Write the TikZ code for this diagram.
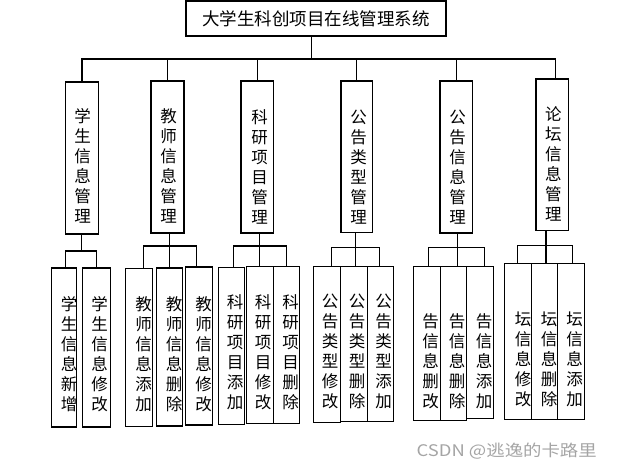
\documentclass[tikz,border=0pt]{standalone}
\usepackage{fontspec}
\usepackage{graphicx}
\setmainfont{Noto Sans CJK SC}
\definecolor{wmgray}{RGB}{165,165,165}
\begin{document}
\begin{tikzpicture}[x=1pt,y=-1pt,line width=1.1pt,
  boxst/.style={draw,inner sep=0pt},
  vlab/.style={inner sep=0pt,align=center,font=\fontsize{16.5}{20}\selectfont},
  ttlfont/.style={font=\fontsize{17.5}{20}\selectfont}]
\fill[white] (0,0) rectangle (618,471);
\useasboundingbox (0,0) rectangle (618,471);

% top
\node[boxst,ttlfont,minimum width=260,minimum height=35] (top) at (316,18.5) {大学生科创项目在线管理系统};
\coordinate (bus) at (311.7,59);

% level 2 boxes
\node[boxst,minimum width=33.4,minimum height=152] (b1) at (82,158) {};
\node[boxst,minimum width=33,minimum height=152] (b2) at (167.5,157) {};
\node[boxst,minimum width=32.7,minimum height=152] (b3) at (257.3,157) {};
\node[boxst,minimum width=31.7,minimum height=151.7] (b4) at (356.8,156.8) {};
\node[boxst,minimum width=32.7,minimum height=152] (b5) at (456.3,157) {};
\node[boxst,minimum width=32.7,minimum height=151.7] (b6) at (552.3,154.8) {};

\node[vlab] (t1) at (82.5,166.2) {学\\生\\信\\息\\管\\理};
\node[vlab] (t2) at (168.5,165.5) {教\\师\\信\\息\\管\\理};
\node[vlab] (t3) at (259.5,167) {科\\研\\项\\目\\管\\理};
\node[vlab] (t4) at (358.7,167) {公\\告\\类\\型\\管\\理};
\node[vlab] (t5) at (457.7,167.5) {公\\告\\信\\息\\管\\理};
\node[vlab] (t6) at (553.3,164.3) {论\\坛\\信\\息\\管\\理};

% top connectors
\draw (top.south -| bus) -- (bus);
\draw (b1.north) |- (bus) -| ([xshift=3pt]b6.north);
\foreach \b in {b2,b3,b4,b5} \draw (\b.north) -- (\b.north |- bus);

% level 3 boxes
\node[boxst,minimum width=24.7,minimum height=159] (sa) at (63.7,347.5) {};
\node[boxst,minimum width=28,minimum height=159] (sb) at (96.3,347.5) {};
\node[boxst,minimum width=27.4,minimum height=157.7] (sc) at (139,347.2) {};
\node[boxst,minimum width=26,minimum height=158] (sd) at (169.3,347) {};
\node[boxst,minimum width=27,minimum height=158] (se) at (198.8,346) {};
\node[boxst,minimum width=26.4,minimum height=157] (sf) at (231.5,345.8) {};
\node[boxst,minimum width=27,minimum height=157.3] (sg) at (259.8,344.7) {};
\node[boxst,minimum width=26.4,minimum height=157.3] (sh) at (286.5,344.7) {};
\node[boxst,minimum width=27,minimum height=156.3] (si) at (326.8,344.2) {};
\node[boxst,minimum width=27,minimum height=155.3] (sj) at (353.8,343.7) {};
\node[boxst,minimum width=26,minimum height=155.3] (sk) at (380.3,343.7) {};
\node[boxst,minimum width=27.4,minimum height=154.7] (sl) at (427,343.4) {};
\node[boxst,minimum width=26,minimum height=154.7] (sm) at (453.7,343.4) {};
\node[boxst,minimum width=26.6,minimum height=152.7] (sn) at (480,342.4) {};
\node[boxst,minimum width=27,minimum height=155.6] (so) at (517.8,341.5) {};
\node[boxst,minimum width=26,minimum height=155.6] (sp) at (544.3,341.5) {};
\node[boxst,minimum width=27,minimum height=155.6] (sq) at (570.8,341.5) {};

\node[vlab] (ta) at (69,354) {学\\生\\信\\息\\新\\增};
\node[vlab] (tb) at (99.7,354) {学\\生\\信\\息\\修\\改};
\node[vlab] (tc) at (143.7,354.2) {教\\师\\信\\息\\添\\加};
\node[vlab] (td) at (174,354.2) {教\\师\\信\\息\\删\\除};
\node[vlab] (te) at (203.7,354.2) {教\\师\\信\\息\\修\\改};
\node[vlab] (tf) at (235,352.5) {科\\研\\项\\目\\添\\加};
\node[vlab] (tg) at (263,352.5) {科\\研\\项\\目\\修\\改};
\node[vlab] (th) at (290.5,352.5) {科\\研\\项\\目\\删\\除};
\node[vlab] (ti) at (330,351) {公\\告\\类\\型\\修\\改};
\node[vlab] (tj) at (357,351) {公\\告\\类\\型\\删\\除};
\node[vlab] (tk) at (383.7,351) {公\\告\\类\\型\\添\\加};
\node[vlab] (tl) at (430.5,361.5) {告\\信\\息\\删\\改};
\node[vlab] (tm) at (457,361.5) {告\\信\\息\\删\\除};
\node[vlab] (tn) at (484,361.5) {告\\信\\息\\添\\加};
\node[vlab] (to) at (523,359.7) {坛\\信\\息\\修\\改};
\node[vlab] (tp) at (549,359.7) {坛\\信\\息\\删\\除};
\node[vlab] (tq) at (574.7,359.7) {坛\\信\\息\\添\\加};

% group junctions
\coordinate (g1) at (81.3,251);
\coordinate (g2) at (169.3,246);
\coordinate (g3) at (259.3,246);
\coordinate (g4) at (355.3,247.3);
\coordinate (g5) at (457.3,247.7);
\coordinate (g6) at (546,245.7);

\draw (b1.south -| g1) -- (g1);
\draw ([xshift=1.6pt]sa.north) |- (g1) -| (sb.north);

\draw (b2.south -| g2) -- (g2);
\draw ([xshift=4.3pt]sc.north) |- (g2) -| ([xshift=-2.5pt]se.north);
\draw (g2) -- (g2 |- sd.north);

\draw (b3.south -| g3) -- (g3);
\draw ([xshift=1.8pt]sf.north) |- (g3) -| (sh.north);
\draw (g3) -- (g3 |- sg.north);

\draw (b4.south -| g4) -- (g4);
\draw ([xshift=4.9pt]si.north) |- (g4) -| ([xshift=-1pt]sk.north);
\draw (g4) -- (g4 |- sj.north);

\draw (b5.south -| g5) -- (g5);
\draw ([xshift=1.3pt]sl.north) |- (g5) -| ([xshift=4.3pt]sn.north);
\draw (g5) -- (g5 |- sm.north);

\draw (b6.south -| g6) -- (g6);
\draw ([xshift=-0.5pt]so.north) |- (g6) -| ([xshift=1.9pt]sq.north);
\draw (g6) -- (g6 |- sp.north);

% watermark
\node[inner sep=0pt,text=wmgray,font=\fontsize{16}{18}\selectfont] (wm) at (506.7,451.5) {\scalebox{1.15}[1]{CSDN @逃逸的卡路里}};
\end{tikzpicture}
\end{document}
